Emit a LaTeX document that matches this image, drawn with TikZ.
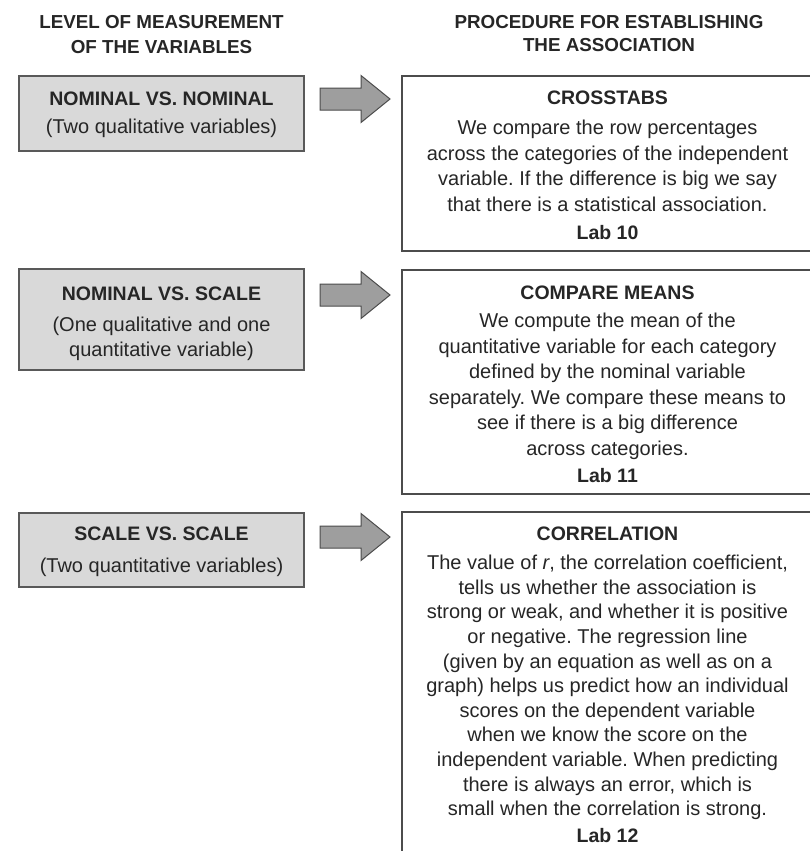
\documentclass[tikz,border=0pt]{standalone}
\usepackage{fontspec}
\setmainfont{Liberation Sans}
\frenchspacing
\begin{document}
\begin{tikzpicture}[x=1pt,y=-1pt,
  txt/.style={text=black!85, inner sep=0pt},
  hdr/.style={txt, font=\fontsize{18.8}{24}\selectfont\bfseries, anchor=base},
  ttl/.style={txt, font=\fontsize{19.5}{24}\selectfont\bfseries, anchor=base},
  sub/.style={txt, font=\fontsize{20}{25}\selectfont, anchor=base},
  body/.style={txt, font=\fontsize{20}{25.5}\selectfont, align=center, anchor=north},
  lbox/.style={draw=black!65, line width=1.4pt, fill=black!15, minimum width=285pt, inner sep=0pt},
  rbox/.style={draw=black!70, line width=1.2pt, fill=white, minimum width=411pt, inner sep=0pt},
  barrow/.style={draw=black!70, line width=1pt, fill=black!38, line join=miter}
]
\useasboundingbox (0,0) rectangle (810,851);
\fill[white] (0,0) rectangle (810,851);

% headers
\node[hdr] (h1a) at (161.5,28.7) {LEVEL OF MEASUREMENT};
\node[hdr] (h1b) at (161.5,53) {OF THE VARIABLES};
\node[hdr] (h2a) at (609,28.7) {PROCEDURE FOR ESTABLISHING};
\node[hdr] (h2b) at (609,52) {THE ASSOCIATION};

% left boxes
\node[lbox, minimum height=75pt] (L1) at (161.5,113.5) {};
\node[lbox, minimum height=101pt] (L2) at (161.5,319.5) {};
\node[lbox, minimum height=74pt] (L3) at (161.5,550) {};

\node[ttl] (L1t) at (161.5,105) {NOMINAL VS. NOMINAL};
\node[sub] (L1s) at (161.5,133.5) {(Two qualitative variables)};
\node[ttl] (L2t) at (161.5,300) {NOMINAL VS. SCALE};
\node[sub] (L2s) at (161.5,331.5) {(One qualitative and one};
\node[sub] (L2u) at (161.5,356.5) {quantitative variable)};
\node[ttl] (L3t) at (161.5,540) {SCALE VS. SCALE};
\node[sub] (L3s) at (161.5,572.5) {(Two quantitative variables)};

% right boxes
\node[rbox, minimum height=175pt] (R1) at (607.5,163.5) {};
\node[rbox, minimum height=224pt] (R2) at (607.5,382) {};
\node[rbox, minimum height=358pt] (R3) at (607.5,691) {};

\node[ttl] (R1t) at (607.5,104.5) {CROSSTABS};
\node[body] (R1b) at (607.5,120) {We compare the row percentages\\
across the categories of the independent\\
variable. If the difference is big we say\\
that there is a statistical association.};
\node[ttl] (R1l) at (607.5,239) {Lab 10};

\node[ttl] (R2t) at (607.5,299) {COMPARE MEANS};
\node[body] (R2b) at (607.5,313) {We compute the mean of the\\
quantitative variable for each category\\
defined by the nominal variable\\
separately. We compare these means to\\
see if there is a big difference\\
across categories.};
\node[ttl] (R2l) at (607.5,482) {Lab 11};

\node[ttl] (R3t) at (607.5,540) {CORRELATION};
\node[body, font=\fontsize{20}{24.6}\selectfont] (R3b) at (607.5,555) {The value of \textit{r}, the correlation coefficient,\\
tells us whether the association is\\
strong or weak, and whether it is positive\\
or negative. The regression line\\
(given by an equation as well as on a\\
graph) helps us predict how an individual\\
scores on the dependent variable\\
when we know the score on the\\
independent variable. When predicting\\
there is always an error, which is\\
small when the correlation is strong.};
\node[ttl] (R3l) at (607.5,842) {Lab 12};

% block arrows
\foreach \c in {99,295,537}{
  \draw[barrow] (320,\c-11) -- (361,\c-11) -- (361,\c-23.5) -- (390,\c)
     -- (361,\c+23.5) -- (361,\c+11) -- (320,\c+11) -- cycle;
}
\end{tikzpicture}
\end{document}
